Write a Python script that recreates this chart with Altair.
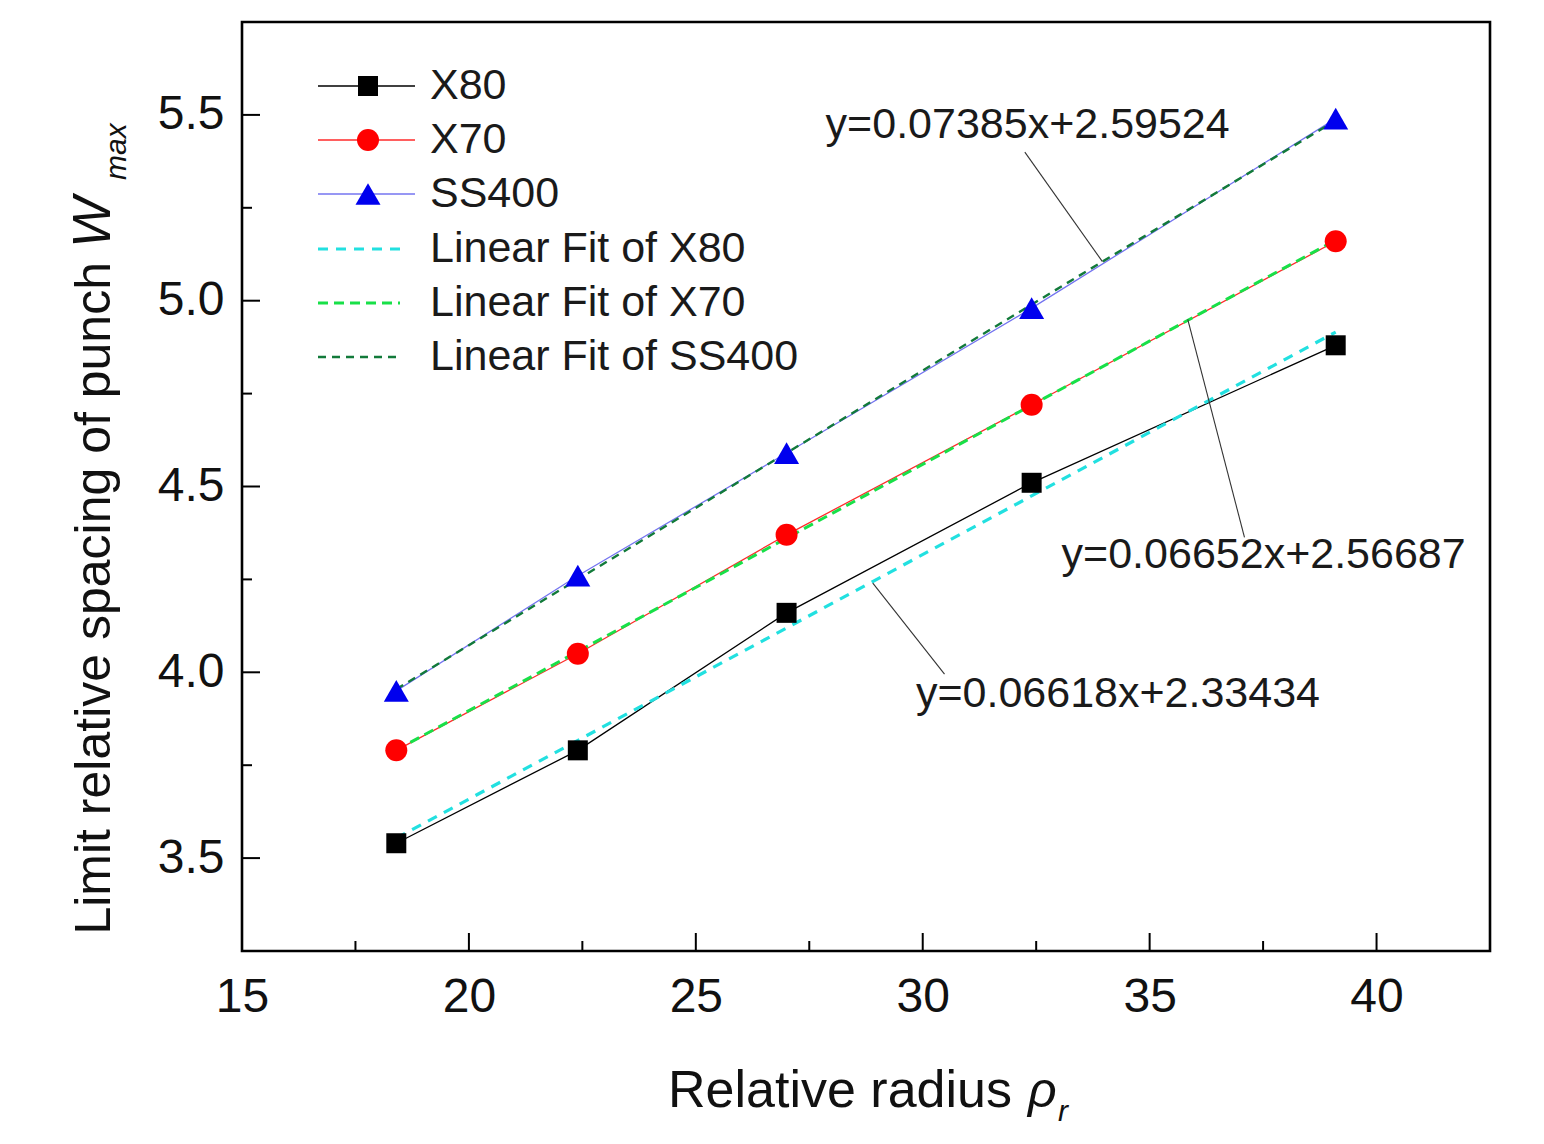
import altair as alt
import pandas as pd

# ---------------- data ----------------
rho = [18.4, 22.4, 27.0, 32.4, 39.1]
x80 = [3.54, 3.79, 4.16, 4.51, 4.88]
x70 = [3.79, 4.05, 4.37, 4.72, 5.16]
ss400 = [3.95, 4.26, 4.59, 4.98, 5.49]

series_names = ["X80", "X70", "SS400"]
series_values = [x80, x70, ss400]
line_colors = ["#000000", "#ff2a2a", "#7474f0"]
marker_colors = ["#000000", "#ff0000", "#0000ee"]
marker_shapes = ["square", "circle", "triangle-up"]
marker_sizes = [400, 484, 625]

fit_names = ["Linear Fit of X80", "Linear Fit of X70", "Linear Fit of SS400"]
fit_colors = ["#22e0e0", "#18e048", "#127a3a"]
fit_dashes = [[10, 8], [10, 6], [8, 6]]
fit_widths = [3.2, 3.0, 2.4]

fit_labels = ["y=0.06618x+2.33434", "y=0.06652x+2.56687", "y=0.07385x+2.59524"]
label_x = [29.85, 33.06, 27.86]
label_y = [3.941, 4.315, 5.473]
leader_x1 = [28.90, 35.84, 33.96]
leader_y1 = [4.24, 4.95, 5.105]
leader_x2 = [30.48, 37.09, 32.25]
leader_y2 = [3.995, 4.363, 5.40]

x_ticks = [15, 20, 25, 30, 35, 40]
x_minor = [17.5, 22.5, 27.5, 32.5, 37.5]
y_ticks = [3.5, 4.0, 4.5, 5.0, 5.5]
y_minor = [3.75, 4.25, 4.75, 5.25]

x_domain = [15, 42.5]
y_domain = [3.25, 5.75]

W, H = 1248, 929
FONT = "Liberation Sans"

# ---------------- scales / axes ----------------
xscale = alt.Scale(domain=x_domain, nice=False, zero=False)
yscale = alt.Scale(domain=y_domain, nice=False, zero=False)
xaxis = alt.Axis(values=x_ticks, title=None, grid=False, ticks=False, domain=False,
                 labelFontSize=48, labelFont=FONT, labelColor="#111111",
                 labelPadding=22, format="d", labelFlush=False)
yaxis = alt.Axis(values=y_ticks, title=None, grid=False, ticks=False, domain=False,
                 labelFontSize=48, labelFont=FONT, labelColor="#111111",
                 labelPadding=18, format=".1f", labelFlush=False)

rows = []
for name, vals in zip(series_names, series_values):
    for r, v in zip(rho, vals):
        rows.append({"rho": r, "w": v, "series": name})
df = pd.DataFrame(rows)

layers = []

# data lines
for name, col in zip(series_names, line_colors):
    layers.append(
        alt.Chart(df[df.series == name]).mark_line(color=col, strokeWidth=1.3).encode(
            x=alt.X("rho:Q", scale=xscale, axis=xaxis),
            y=alt.Y("w:Q", scale=yscale, axis=yaxis),
        )
    )

# linear fits
for name, col, dash, sw in zip(series_names, fit_colors, fit_dashes, fit_widths):
    layers.append(
        alt.Chart(df[df.series == name])
        .transform_regression("rho", "w")
        .mark_line(color=col, strokeDash=dash, strokeWidth=sw)
        .encode(
            x=alt.X("rho:Q", scale=xscale, axis=xaxis),
            y=alt.Y("w:Q", scale=yscale, axis=yaxis),
        )
    )

# markers
for name, col, shp, sz in zip(series_names, marker_colors, marker_shapes, marker_sizes):
    layers.append(
        alt.Chart(df[df.series == name]).mark_point(
            shape=shp, filled=True, size=sz, color=col, opacity=1, strokeWidth=0
        ).encode(
            x=alt.X("rho:Q", scale=xscale, axis=xaxis),
            y=alt.Y("w:Q", scale=yscale, axis=yaxis),
        )
    )

# leader lines + annotation text
lead_df = pd.DataFrame({"x1": leader_x1, "y1": leader_y1, "x2": leader_x2, "y2": leader_y2})
layers.append(
    alt.Chart(lead_df).mark_rule(color="#333333", strokeWidth=1.1).encode(
        x=alt.X("x1:Q", scale=xscale, axis=xaxis),
        y=alt.Y("y1:Q", scale=yscale, axis=yaxis),
        x2="x2:Q",
        y2="y2:Q",
    )
)
lab_df = pd.DataFrame({"lx": label_x, "ly": label_y, "t": fit_labels})
layers.append(
    alt.Chart(lab_df).mark_text(align="left", baseline="middle", fontSize=43,
                                font=FONT, color="#1a1a1a").encode(
        x=alt.X("lx:Q", scale=xscale, axis=xaxis),
        y=alt.Y("ly:Q", scale=yscale, axis=yaxis),
        text="t:N",
    )
)

# inward ticks
tick_specs = [
    (x_ticks, "x", 18), (x_minor, "x", 10), (y_ticks, "y", 18), (y_minor, "y", 10)
]
for vals, ch, ln in tick_specs:
    tdf = pd.DataFrame({"v": vals})
    if ch == "x":
        enc = dict(x=alt.X("v:Q", scale=xscale, axis=xaxis),
                   y=alt.value(H), y2=alt.value(H - ln))
    else:
        enc = dict(y=alt.Y("v:Q", scale=yscale, axis=yaxis),
                   x=alt.value(0), x2=alt.value(ln))
    layers.append(alt.Chart(tdf).mark_rule(color="#000000", strokeWidth=2).encode(**enc))

# ---------------- legend (inside, top-left) ----------------
leg_labels = series_names + fit_names
leg_y = [64, 118, 172, 227, 281, 335]
for i in range(3):
    ldf = pd.DataFrame({"a": [76], "b": [173], "m": [126], "y": [leg_y[i]]})
    layers.append(
        alt.Chart(ldf).mark_rule(color=line_colors[i], strokeWidth=1.5).encode(
            x=alt.X("a:Q", scale=None, axis=None), x2="b:Q",
            y=alt.Y("y:Q", scale=None, axis=None),
        )
    )
    layers.append(
        alt.Chart(ldf).mark_point(shape=marker_shapes[i], filled=True, size=marker_sizes[i],
                                  color=marker_colors[i], opacity=1, strokeWidth=0).encode(
            x=alt.X("m:Q", scale=None, axis=None),
            y=alt.Y("y:Q", scale=None, axis=None),
        )
    )
for i in range(3):
    ldf = pd.DataFrame({"a": [76], "b": [158], "y": [leg_y[3 + i]]})
    layers.append(
        alt.Chart(ldf).mark_rule(color=fit_colors[i], strokeWidth=fit_widths[i],
                                 strokeDash=fit_dashes[i]).encode(
            x=alt.X("a:Q", scale=None, axis=None), x2="b:Q",
            y=alt.Y("y:Q", scale=None, axis=None),
        )
    )
leg_txt = pd.DataFrame({"x": [188] * 6, "y": leg_y, "t": leg_labels})
layers.append(
    alt.Chart(leg_txt).mark_text(align="left", baseline="middle", fontSize=43,
                                 font=FONT, color="#1a1a1a").encode(
        x=alt.X("x:Q", scale=None, axis=None),
        y=alt.Y("y:Q", scale=None, axis=None),
        text="t:N",
    )
)

# ---------------- axis titles (with italic symbols and subscripts) ----------------
def txt(x, y, s, size, italic=False, angle=0, align="left"):
    d = pd.DataFrame({"x": [x], "y": [y], "t": [s]})
    kw = dict(align=align, baseline="alphabetic", fontSize=size, font=FONT, color="#111111")
    if italic:
        kw["fontStyle"] = "italic"
    if angle:
        kw["angle"] = angle
    return alt.Chart(d).mark_text(**kw).encode(
        x=alt.X("x:Q", scale=None, axis=None),
        y=alt.Y("y:Q", scale=None, axis=None),
        text="t:N",
    )

layers.append(txt(426, 1085, "Relative radius", 52))
layers.append(txt(786, 1085, "ρ", 50, italic=True))
layers.append(txt(816, 1099, "r", 30, italic=True))

layers.append(txt(-132, 240, "Limit relative spacing of punch", 50, angle=270, align="right"))
layers.append(txt(-132, 226, "W", 54, italic=True, angle=270))
layers.append(txt(-116, 158, "max", 30, italic=True, angle=270))

chart = alt.layer(*layers).properties(
    width=W, height=H,
    autosize=alt.AutoSizeParams(type="none"),
    padding={"left": 234, "top": 14, "right": 46, "bottom": 185},
    background="white",
).configure_view(stroke="#000000", strokeWidth=2.6)

chart.save("out.html", embed_options={"renderer": "svg", "actions": False})
